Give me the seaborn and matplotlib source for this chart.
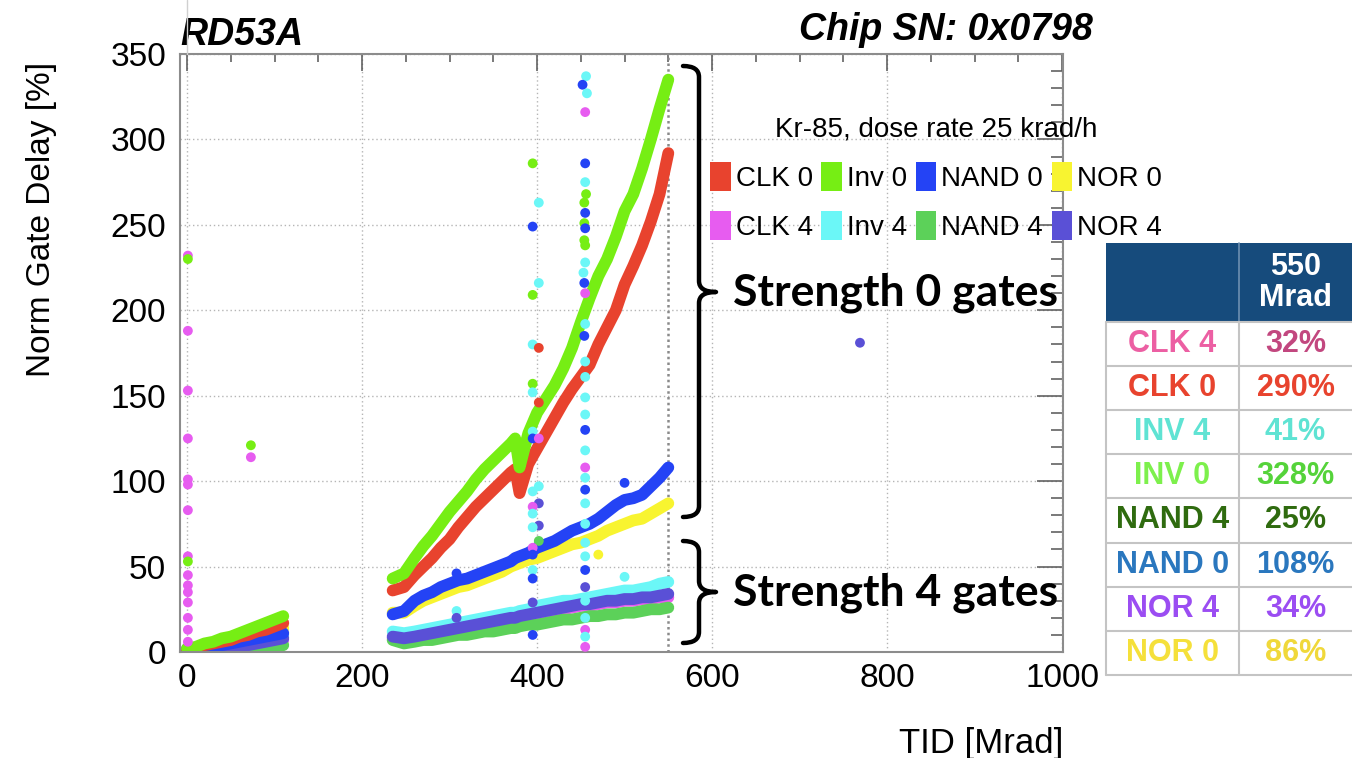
import numpy as np
import pandas as pd
import matplotlib
matplotlib.use("Agg")
import matplotlib.pyplot as plt
from matplotlib.patches import Patch, Rectangle, PathPatch
from matplotlib.path import Path
from matplotlib.lines import Line2D
from matplotlib.ticker import MultipleLocator
import seaborn as sns

# ---------------- data ----------------
gates = ["CLK 0", "Inv 0", "NAND 0", "NOR 0", "CLK 4", "Inv 4", "NAND 4", "NOR 4"]
colors = ["#E8432E", "#76EE14", "#2443F5", "#F8F430", "#E75CF0", "#6BF7F7", "#5CD159", "#5A50D6"]

# first irradiation segment (TID in Mrad, delay in %)
tid_early = [0, 10, 20, 30, 40, 50, 60, 70, 80, 90, 100, 110]
clk0_early = [1, 2, 4, 5, 6, 7, 9, 10, 12, 13, 15, 17]
inv0_early = [2, 3, 5, 6, 8, 9, 11, 13, 15, 17, 19, 21]
nand0_early = [1, 2, 2, 3, 4, 5, 6, 7, 8, 9, 10, 11]
nor0_early = [1, 2, 3, 4, 5, 6, 8, 9, 10, 11, 13, 14]
clk4_early = [1, 1, 1, 2, 2, 3, 3, 4, 4, 5, 6, 7]
inv4_early = [1, 1, 2, 2, 3, 4, 4, 5, 6, 7, 8, 9]
nand4_early = [0, 0, 0, 1, 1, 1, 2, 2, 2, 3, 3, 4]
nor4_early = [2, 1, 1, 2, 2, 3, 3, 4, 5, 6, 7, 8]

# second irradiation segment
tid_late = [235, 248, 260, 270, 280, 290, 300, 310, 320, 330, 340, 350, 360, 370, 375, 380,
            390, 400, 410, 420, 430, 440, 450, 460, 470, 480, 490, 500, 510, 520, 530, 540, 550]
clk0_late = [36, 38, 45, 50, 55, 61, 66, 73, 79, 85, 90, 95, 100, 105, 107, 93,
             110, 119, 128, 137, 146, 154, 161, 168, 180, 190, 200, 215, 226, 238, 252, 268, 292]
inv0_late = [43, 46, 55, 62, 68, 75, 82, 88, 94, 101, 107, 112, 117, 122, 125, 108,
             128, 140, 148, 156, 166, 178, 193, 207, 220, 230, 243, 258, 268, 283, 300, 318, 335]
nand0_late = [22, 24, 30, 33, 35, 38, 40, 42, 43, 45, 47, 49, 51, 53, 55, 56,
              58, 61, 63, 65, 68, 71, 73, 75, 78, 82, 86, 89, 90, 92, 97, 102, 108]
nor0_late = [23, 23, 27, 30, 32, 34, 36, 38, 39, 41, 43, 45, 47, 50, 51, 52,
             54, 55, 57, 59, 61, 63, 64, 66, 68, 71, 73, 75, 77, 78, 81, 84, 87]
clk4_late = [8, 7, 8, 9, 10, 11, 12, 13, 14, 15, 16, 17, 18, 19, 19, 20,
             21, 22, 23, 24, 25, 26, 27, 27, 28, 29, 29, 30, 30, 31, 31, 32, 32]
inv4_late = [12, 11, 12, 13, 14, 15, 16, 17, 18, 19, 20, 21, 22, 23, 23, 24,
             25, 27, 28, 29, 30, 30, 31, 32, 33, 34, 35, 36, 36, 37, 38, 40, 41]
nand4_late = [7, 5, 6, 7, 7, 8, 9, 10, 10, 11, 12, 12, 13, 14, 14, 15,
              16, 16, 17, 18, 19, 19, 20, 21, 21, 22, 22, 23, 23, 24, 25, 25, 26]
nor4_late = [9, 8, 9, 10, 11, 12, 13, 14, 15, 16, 17, 18, 19, 20, 20, 21,
             22, 23, 24, 25, 26, 27, 28, 28, 29, 30, 30, 31, 31, 32, 32, 33, 34]

# isolated points / measurement glitches
spike_gate = (["CLK 4"] * 15 + ["Inv 0", "Inv 0", "Inv 0", "CLK 4", "NOR 4"]
              + ["Inv 0", "Inv 4", "NAND 0", "Inv 4", "Inv 0", "Inv 4", "CLK 0", "Inv 0", "Inv 4",
                 "CLK 0", "Inv 4", "NAND 0", "CLK 4", "Inv 4", "Inv 4", "NOR 4", "CLK 4", "Inv 4",
                 "NOR 4", "Inv 4", "NAND 4", "CLK 4", "NAND 0", "Inv 4", "NAND 0", "NOR 4", "NAND 0"]
              + ["Inv 4", "NAND 0", "Inv 4", "CLK 4", "NAND 0", "Inv 4", "Inv 0", "Inv 0", "NAND 0",
                 "Inv 0", "NAND 0", "Inv 0", "Inv 0", "Inv 4", "Inv 4", "NAND 0", "CLK 4", "Inv 4",
                 "NAND 0", "Inv 4", "Inv 4", "Inv 4", "NAND 0", "Inv 4", "CLK 4", "Inv 4", "NAND 0",
                 "Inv 4", "Inv 4", "Inv 4", "Inv 4", "NAND 0", "NOR 4", "Inv 4", "CLK 4", "Inv 4",
                 "CLK 4", "Inv 4", "Inv 4"]
              + ["NAND 0", "Inv 4", "NOR 4", "NAND 0", "Inv 4", "NOR 0"])
spike_tid = ([1] * 15 + [1, 1, 73, 73, 769]
             + [395, 402, 395, 402, 395, 395, 402, 395, 395, 402, 395, 395, 402, 402, 395, 402,
                395, 395, 402, 395, 402, 395, 395, 395, 395, 395, 395]
             + [456, 452, 457, 455, 455, 455, 456, 454, 455, 454, 455, 454, 455, 455, 453, 454,
                455, 455, 454, 455, 455, 455, 455, 455, 455, 455, 455, 455, 455, 455, 455, 455,
                455, 455, 455, 455, 455, 455, 455]
             + [308, 308, 308, 500, 500, 470])
spike_val = ([232, 188, 153, 125, 101, 98, 83, 56, 45, 39, 35, 29, 20, 13, 6] + [230, 53, 121, 114, 181]
             + [286, 263, 249, 216, 209, 180, 178, 157, 152, 146, 129, 125, 125, 97, 94, 87,
                85, 81, 74, 73, 65, 61, 57, 48, 43, 29, 10]
             + [337, 332, 327, 316, 286, 275, 268, 263, 257, 251, 248, 241, 238, 228, 222, 216,
                210, 192, 185, 170, 161, 149, 130, 139, 108, 118, 95, 102, 87, 75, 64, 48,
                38, 56, 13, 20, 3, 9, 30]
             + [46, 24, 20, 99, 44, 57])

# table on the right
table_labels = ["CLK 4", "CLK 0", "INV 4", "INV 0", "NAND 4", "NAND 0", "NOR 4", "NOR 0"]
table_values = ["32%", "290%", "41%", "328%", "25%", "108%", "34%", "86%"]
table_label_colors = ["#EC5FA3", "#E8432E", "#5FE3D3", "#7DF04C", "#2F6B0F", "#2A77BE", "#9B4DF2", "#F5E03A"]
table_value_colors = ["#C2477F", "#E8432E", "#5FE3D3", "#55D33A", "#2F6B0F", "#2A77BE", "#9B4DF2", "#F0D83A"]
table_header = "550\nMrad"

# ---------------- build tables ----------------
early = {"CLK 0": clk0_early, "Inv 0": inv0_early, "NAND 0": nand0_early, "NOR 0": nor0_early,
         "CLK 4": clk4_early, "Inv 4": inv4_early, "NAND 4": nand4_early, "NOR 4": nor4_early}
late = {"CLK 0": clk0_late, "Inv 0": inv0_late, "NAND 0": nand0_late, "NOR 0": nor0_late,
        "CLK 4": clk4_late, "Inv 4": inv4_late, "NAND 4": nand4_late, "NOR 4": nor4_late}
palette = dict(zip(gates, colors))
draw_order = ["CLK 4", "NAND 4", "Inv 4", "NOR 4", "NOR 0", "NAND 0", "CLK 0", "Inv 0"]

rows = []
for g in draw_order:
    for t, v in zip(tid_early, early[g]):
        rows.append((g, "early", t, v))
    for t, v in zip(tid_late, late[g]):
        rows.append((g, "late", t, v))
bands = pd.DataFrame(rows, columns=["gate", "segment", "TID", "delay"])
spikes = pd.DataFrame({"gate": spike_gate, "TID": spike_tid, "delay": spike_val})

# ---------------- figure ----------------
sns.set_style("white")
plt.rcParams["font.family"] = ["Liberation Sans", "DejaVu Sans"]
plt.rcParams["text.color"] = "black"
plt.rcParams["axes.labelcolor"] = "black"

W, H = 1352, 758
fig = plt.figure(figsize=(W / 100, H / 100), dpi=100)


def fx(x):
    return x / W


def fy(y):
    return 1 - y / H


ax = fig.add_axes([fx(180), fy(652), (1063 - 180) / W, (652 - 54) / H])

sns.lineplot(data=bands, x="TID", y="delay", hue="gate", hue_order=draw_order, palette=palette,
             units="segment", estimator=None, sort=False, linewidth=8.5,
             solid_capstyle="round", legend=False, ax=ax, zorder=2)
sns.scatterplot(data=spikes, x="TID", y="delay", hue="gate", palette=palette, s=50,
                linewidth=0, legend=False, ax=ax, zorder=3)

ax.set_xlim(-8, 1001)
ax.set_ylim(0, 350)
ax.xaxis.set_major_locator(MultipleLocator(200))
ax.xaxis.set_minor_locator(MultipleLocator(50))
ax.yaxis.set_major_locator(MultipleLocator(50))
ax.yaxis.set_minor_locator(MultipleLocator(10))
ax.grid(True, which="major", linestyle=(0, (1, 2)), color="#b5b5b5", linewidth=1)
ax.set_axisbelow(True)
ax.axvline(550, color="#8a8a8a", linestyle=(0, (1, 1.3)), linewidth=1.8, zorder=1)

ax.tick_params(which="both", direction="in", top=True, right=True, color="#555555",
               labelcolor="black", labelsize=24, width=1.1)
ax.tick_params(axis="y", which="major", length=19, pad=10)
ax.tick_params(axis="y", which="minor", length=9)
ax.tick_params(axis="x", which="major", length=12, pad=8)
ax.tick_params(axis="x", which="minor", length=6)
for s in ax.spines.values():
    s.set_color("#8c8c8c")
    s.set_linewidth(1.5)

ax.set_xlabel("TID [Mrad]", fontsize=25, loc="right", color="black")
ax.xaxis.set_label_coords(1.0, -0.125)
ax.set_ylabel("Norm Gate Delay [%]", fontsize=24, loc="top", color="black")
ax.yaxis.set_label_coords(-0.139, 0.987)

ax.text(0.0, 1.015, "RD53A", transform=ax.transAxes, fontsize=27, fontweight="bold",
        fontstyle="italic", ha="left", va="baseline", color="black")
ax.text(1.034, 1.023, "Chip SN: 0x0798", transform=ax.transAxes, fontsize=27,
        fontweight="bold", fontstyle="italic", ha="right", va="baseline", color="black")

# thin line above plot at x=0 (slide artefact)
fig.add_artist(Line2D([fx(187), fx(187)], [fy(0), fy(54)], color="#d0d0d0", lw=1,
                      transform=fig.transFigure))

# legend
leg_order = ["CLK 0", "CLK 4", "Inv 0", "Inv 4", "NAND 0", "NAND 4", "NOR 0", "NOR 4"]
handles = [Patch(facecolor=palette[g], edgecolor="none", label=g) for g in leg_order]
leg = fig.legend(handles=handles, ncol=4, title="Kr-85, dose rate 25 krad/h", loc="upper left",
                 bbox_to_anchor=(fx(710), fy(117)), frameon=False, fontsize=20, title_fontsize=20,
                 handlelength=0.75, handleheight=1.2, handletextpad=0.18, columnspacing=0.3,
                 labelspacing=0.7, borderpad=0, borderaxespad=0)
for t in leg.get_texts():
    t.set_color("black")
leg.get_title().set_color("black")

# brackets
def bracket(xl, xs, xt, yt, ym, yb, r=11):
    verts = [(xl, yt), (xs, yt), (xs, yt + r), (xs, ym - r), (xs, ym), (xt, ym),
             (xs, ym), (xs, ym + r), (xs, yb - r), (xs, yb), (xl, yb)]
    codes = [Path.MOVETO, Path.CURVE3, Path.CURVE3, Path.LINETO, Path.CURVE3, Path.CURVE3,
             Path.CURVE3, Path.CURVE3, Path.LINETO, Path.CURVE3, Path.CURVE3]
    verts = [(fx(x), fy(y)) for x, y in verts]
    fig.add_artist(PathPatch(Path(verts, codes), fill=False, lw=3.2, edgecolor="black",
                             transform=fig.transFigure, capstyle="round", joinstyle="round"))


bracket(683, 699, 716, 66, 292, 517)
bracket(683, 699, 716, 541, 592, 643)
fig.text(fx(733), fy(293), "Strength 0 gates", fontsize=32, fontweight="bold",
         family=["Lato", "DejaVu Sans"], ha="left", va="center", color="black")
fig.text(fx(733), fy(593), "Strength 4 gates", fontsize=32, fontweight="bold",
         family=["Lato", "DejaVu Sans"], ha="left", va="center", color="black")

# table
tx0, tx1, tx2 = 1106, 1239, 1352
hy0, hy1 = 243, 322
row_h = 44.1
fig.add_artist(Rectangle((fx(tx0), fy(hy1)), (tx2 - tx0) / W, (hy1 - hy0) / H,
                         facecolor="#164B7C", edgecolor="none", transform=fig.transFigure))
fig.add_artist(Line2D([fx(tx1), fx(tx1)], [fy(hy0), fy(hy1)], color="#6d8fb0", lw=1.2,
                      transform=fig.transFigure))
fig.text(fx((tx1 + tx2) / 2), fy((hy0 + hy1) / 2), table_header, color="white", fontsize=22,
         fontweight="bold", ha="center", va="center", linespacing=1.05)
n = len(table_labels)
ybot = hy1 + n * row_h
for i in range(n + 1):
    yy = hy1 + i * row_h
    fig.add_artist(Line2D([fx(tx0), fx(tx2)], [fy(yy), fy(yy)], color="#c4c4c4", lw=1.5,
                          transform=fig.transFigure))
for xx in (tx0, tx1):
    fig.add_artist(Line2D([fx(xx), fx(xx)], [fy(hy1), fy(ybot)], color="#c4c4c4", lw=1.5,
                          transform=fig.transFigure))
for i, (lab, val) in enumerate(zip(table_labels, table_values)):
    yc = hy1 + (i + 0.5) * row_h
    fig.text(fx((tx0 + tx1) / 2), fy(yc), lab, color=table_label_colors[i], fontsize=22,
             fontweight="bold", ha="center", va="center")
    fig.text(fx((tx1 + tx2) / 2), fy(yc), val, color=table_value_colors[i], fontsize=22,
             fontweight="bold", ha="center", va="center")

fig.savefig("out.png", dpi=100, facecolor="white")
